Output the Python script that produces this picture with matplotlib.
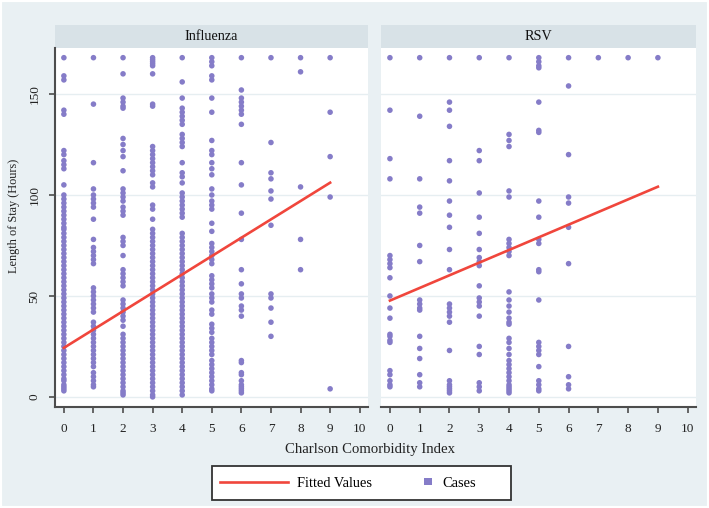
import matplotlib
matplotlib.use("Agg")
import matplotlib.pyplot as plt
from matplotlib.patches import Rectangle
from matplotlib.lines import Line2D
from matplotlib.legend_handler import HandlerBase

plt.rcParams['font.family'] = ['Liberation Serif', 'DejaVu Serif']

# Charlson Comorbidity Index levels shown on the x axis.
cci_ticks = [0, 1, 2, 3, 4, 5, 6, 7, 8, 9, 10]

# Length of stay (hours), one list per CCI value 0..9.
flu_los = [
    [168, 159, 157, 142, 140, 122, 120, 117, 115, 113, 105, 100, 98, 96, 94, 92, 90, 88, 86, 84,
     83, 81, 79, 77, 75, 73, 71, 69, 67, 65, 63, 61, 59, 57, 55, 53, 51, 49, 47, 45, 43, 41, 39,
     37, 35, 33, 31, 29, 27, 25, 23, 21, 19, 17, 15, 13, 11, 9, 8, 6, 5, 4, 3],
    [168, 145, 116, 103, 100, 98, 96, 94, 88, 78, 74, 72, 70, 68, 66, 54, 52, 50, 48, 46, 44, 42,
     37, 35, 33, 31, 29, 27, 25, 23, 21, 19, 17, 15, 12, 10, 8, 6, 5],
    [168, 160, 148, 146, 144, 143, 128, 125, 122, 119, 112, 103, 101, 99, 97, 94, 92, 90, 79, 77,
     75, 70, 63, 61, 59, 57, 55, 48, 46, 44, 42, 40, 38, 35, 31, 29, 27, 25, 23, 21, 19, 17, 15,
     13, 11, 9, 7, 5, 3, 2, 1],
    [168, 167, 166, 165, 164, 160, 145, 144, 124, 122, 120, 118, 116, 114, 112, 110, 106, 104, 95,
     93, 88, 83, 81, 79, 77, 75, 73, 71, 69, 67, 65, 63, 61, 59, 57, 55, 53, 51, 49, 47, 45, 43,
     41, 39, 37, 35, 33, 31, 29, 27, 25, 23, 21, 19, 17, 15, 13, 11, 9, 7, 5, 3, 1, 0],
    [168, 156, 148, 143, 141, 139, 137, 135, 130, 128, 126, 124, 116, 111, 109, 106, 101, 99, 97,
     95, 93, 91, 89, 81, 79, 77, 75, 73, 71, 69, 67, 65, 63, 61, 59, 57, 55, 53, 51, 49, 47, 45,
     43, 41, 39, 37, 35, 33, 31, 29, 27, 25, 23, 21, 19, 17, 15, 13, 11, 9, 7, 5, 3, 1],
    [168, 166, 164, 159, 157, 148, 141, 127, 122, 120, 116, 113, 110, 103, 100, 97, 95, 93, 86, 82,
     76, 74, 72, 70, 68, 66, 60, 58, 56, 54, 51, 49, 47, 43, 41, 36, 34, 32, 29, 27, 25, 23, 21,
     18, 16, 14, 12, 10, 8, 6, 4, 3],
    [168, 152, 148, 146, 144, 142, 140, 135, 116, 105, 91, 78, 63, 56, 51, 49, 45, 43, 40, 18, 17,
     12, 11, 8, 6, 5, 4, 3, 2],
    [168, 126, 111, 108, 102, 98, 85, 51, 49, 44, 37, 30],
    [168, 161, 104, 78, 63],
    [168, 141, 119, 99, 4],
]

rsv_los = [
    [168, 142, 118, 108, 70, 68, 66, 64, 59, 50, 44, 39, 31, 30, 28, 27, 13, 11, 8, 6, 5],
    [168, 139, 108, 94, 91, 75, 67, 48, 46, 44, 43, 30, 24, 19, 11, 7, 5],
    [168, 146, 142, 134, 117, 107, 97, 90, 84, 73, 63, 46, 44, 42, 40, 37, 23, 8, 6, 5, 4, 3, 2],
    [168, 122, 117, 101, 89, 81, 73, 69, 67, 65, 55, 49, 47, 45, 40, 25, 21, 7, 5, 3],
    [168, 130, 127, 124, 102, 99, 78, 76, 74, 72, 70, 52, 48, 45, 42, 39, 37, 36, 29, 27, 24, 21,
     18, 16, 14, 12, 10, 8, 6, 5, 4, 3, 2],
    [168, 166, 164, 163, 146, 132, 131, 97, 89, 78, 76, 63, 62, 48, 27, 25, 23, 21, 15, 8, 6, 4, 3],
    [168, 154, 120, 99, 96, 84, 66, 25, 10, 6, 4],
    [168],
    [168],
    [168],
]

# Fitted regression lines (end points at CCI 0 and 9).
fit_x = [0, 9]
flu_fit = [24.3, 106.1]
rsv_fit = [47.7, 104.1]

PURPLE = '#857cc8'
RED = '#f0463c'
BG = '#e9f0f3'
STRIP = '#d8e2e7'
AXIS = '#4d4d4d'

W, H = 709, 508
fig = plt.figure(figsize=(W / 100, H / 100), dpi=100)
fig.patch.set_facecolor(BG)
# thin white border round the graph region
fig.patches.append(Rectangle((0, 0), 1, 1, transform=fig.transFigure, fill=False,
                             edgecolor='white', linewidth=3))

ax_flu = fig.add_axes([55 / W, 1 - 407 / H, 313 / W, 359 / H])
ax_rsv = fig.add_axes([381 / W, 1 - 407 / H, 315 / W, 359 / H])

for ax, los, fit, name in [(ax_flu, flu_los, flu_fit, 'Influenza'), (ax_rsv, rsv_los, rsv_fit, 'RSV')]:
    for cci, values in enumerate(los):
        ax.scatter([cci] * len(values), values, s=16, color=PURPLE, edgecolors='none', zorder=2)
    ax.plot(fit_x, fit, color=RED, linewidth=1.9, zorder=3)

    ax.set_xlim(-0.3, 10.28)
    ax.set_ylim(-5, 172.8)
    ax.set_xticks(cci_ticks)
    ax.set_yticks([0, 50, 100, 150])
    ax.grid(axis='y', color='#e6eef1', linewidth=1.0)
    ax.grid(axis='x', visible=False)
    ax.set_axisbelow(True)

    for side in ['top', 'right']:
        ax.spines[side].set_visible(False)
    ax.spines['bottom'].set_color(AXIS)
    ax.spines['bottom'].set_linewidth(1.5)
    ax.tick_params(axis='x', colors='#222222', labelsize=9.5, length=4.5, width=1.2, pad=7,
                   color=AXIS)

    # panel header strip
    ax.add_patch(Rectangle((0, 1.0), 1, 23 / 359, transform=ax.transAxes, clip_on=False,
                           facecolor=STRIP, edgecolor='none'))
    ax.text(0.5, 1 + 11.5 / 359, name, transform=ax.transAxes, ha='center', va='center',
            fontsize=10.2, color='#111111')

ax_flu.spines['left'].set_color(AXIS)
ax_flu.spines['left'].set_linewidth(1.5)
ax_flu.tick_params(axis='y', colors='#222222', labelsize=9.5, length=4.5, width=1.2, pad=6,
                   color=AXIS)
for lab in ax_flu.get_yticklabels():
    lab.set_rotation(90)
    lab.set_va('center')

ax_rsv.spines['left'].set_visible(False)
ax_rsv.tick_params(axis='y', left=False, labelleft=False)

fig.text(14 / W, 1 - 216 / H, 'Length of Stay (Hours)', rotation=90, ha='center', va='center',
         fontsize=8.8, color='#222222')
fig.text(370 / W, 1 - 449 / H, 'Charlson Comorbidity Index', ha='center', va='center',
         fontsize=10.6, color='#222222')


# legend: square marker sits at the right end of its handle, like Stata draws it
class SquareHandler(HandlerBase):
    def create_artists(self, legend, orig_handle, xdescent, ydescent, width, height, fontsize, trans):
        s = 0.5 * fontsize
        x0 = -xdescent + width - s - 0.15 * fontsize
        y0 = -ydescent + height / 2 - s / 2
        return [Rectangle((x0, y0), s, s, facecolor=PURPLE, edgecolor='none', transform=trans)]


fit_handle = Line2D([], [], color=RED, linewidth=1.9)
case_handle = Rectangle((0, 0), 1, 1, facecolor=PURPLE)
fig.patches.append(Rectangle((212 / W, 1 - 500 / H), 299 / W, 34 / H, transform=fig.transFigure,
                             facecolor='white', edgecolor='#333333', linewidth=1.3))
fig.legend([fit_handle, case_handle], ['Fitted Values', 'Cases'], ncol=2, frameon=False,
           loc='center left', bbox_to_anchor=(220 / W, 1 - 483 / H), borderpad=0, borderaxespad=0,
           fontsize=10.4, handlelength=4.7, handletextpad=0.62, columnspacing=-0.42,
           handler_map={Rectangle: SquareHandler()})

fig.savefig('out.png', dpi=100, facecolor=fig.get_facecolor())
